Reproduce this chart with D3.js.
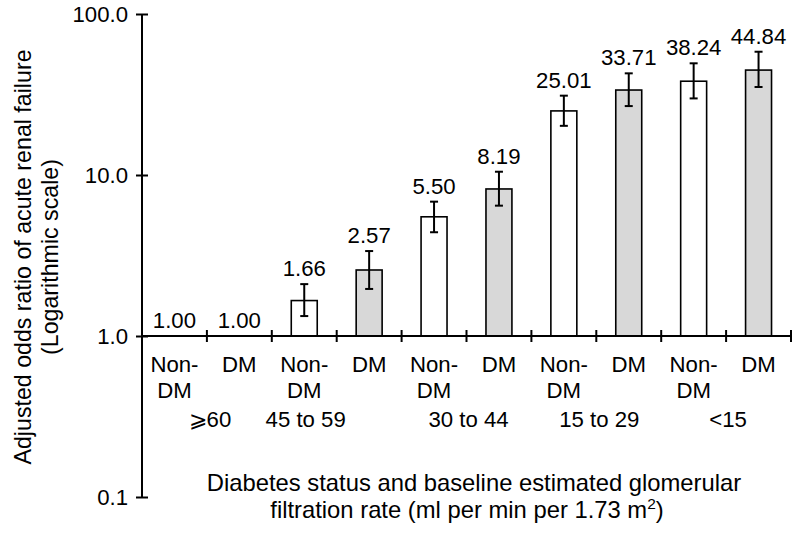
<!DOCTYPE html>
<html><head><meta charset="utf-8">
<script src="https://cdn.jsdelivr.net/npm/d3@7"></script>
<style>
html,body{margin:0;padding:0;background:#fff;}
svg{display:block;font-family:"Liberation Sans",Arial,Helvetica,sans-serif;}
</style></head>
<body><svg id="chart" width="800" height="535"></svg>
<script>
// ---- data ----
const groups = ["\u2A7E60", "45 to 59", "30 to 44", "15 to 29", "<15"];
const statuses = ["Non-DM", "DM"];
const values = [1.00, 1.00, 1.66, 2.57, 5.50, 8.19, 25.01, 33.71, 38.24, 44.84];
const valueLabels = ["1.00", "1.00", "1.66", "2.57", "5.50", "8.19", "25.01", "33.71", "38.24", "44.84"];
const lowerCI = [null, null, 1.33, 1.96, 4.41, 6.45, 20.2, 26.8, 29.9, 35.2];
const upperCI = [null, null, 2.10, 3.37, 6.83, 10.48, 31.1, 42.8, 49.4, 58.3];
const yTickValues = [0.1, 1, 10, 100];
const yTickLabels = ["0.1", "1.0", "10.0", "100.0"];

// ---- layout ----
const svg = d3.select("#chart");
const mLeft = 142, mRight = 791, mTop = 14, mBottom = 497;
const fs = 22.2, fsTitle = 23.8, fsYTitle = 23.2;
const groupNudge = [3, -31, 2, 3, 2];

const bars = values.map((v, i) => ({
  key: i, group: groups[Math.floor(i / 2)], status: statuses[i % 2],
  value: v, label: valueLabels[i], lo: lowerCI[i], hi: upperCI[i]
}));

const x = d3.scaleBand().domain(bars.map(d => d.key)).range([mLeft, mRight]).padding(0);
const y = d3.scaleLog().domain([0.1, 100]).range([mBottom, mTop]);
const base = y(1);
const bw = x.bandwidth() * 0.4;

// bars
svg.append("g").selectAll("rect").data(bars.filter(d => d.value > 1)).join("rect")
  .attr("x", d => x(d.key) + x.bandwidth() / 2 - bw / 2)
  .attr("y", d => y(d.value))
  .attr("width", bw)
  .attr("height", d => base - y(d.value))
  .attr("fill", d => d.status === "DM" ? "#d8d8d8" : "#ffffff")
  .attr("stroke", "#000").attr("stroke-width", 1.6);

// error bars
const eb = svg.append("g").attr("stroke", "#000").attr("stroke-width", 2);
bars.filter(d => d.hi != null).forEach(d => {
  const cx = x(d.key) + x.bandwidth() / 2;
  eb.append("line").attr("x1", cx).attr("x2", cx).attr("y1", y(d.lo)).attr("y2", y(d.hi));
  eb.append("line").attr("x1", cx - 4).attr("x2", cx + 4).attr("y1", y(d.lo)).attr("y2", y(d.lo));
  eb.append("line").attr("x1", cx - 4).attr("x2", cx + 4).attr("y1", y(d.hi)).attr("y2", y(d.hi));
});

// value labels
svg.append("g").selectAll("text").data(bars).join("text")
  .attr("x", d => x(d.key) + x.bandwidth() / 2)
  .attr("y", d => y(d.hi != null ? d.hi : d.value) - 8)
  .attr("text-anchor", "middle").attr("font-size", fs).attr("fill", "#000")
  .text(d => d.label);

// y axis
const yAxis = d3.axisLeft(y).tickValues(yTickValues)
  .tickFormat((d, i) => yTickLabels[i]).tickSizeInner(6).tickSizeOuter(0).tickPadding(9);
const gy = svg.append("g").attr("transform", `translate(${mLeft},0)`).call(yAxis);
gy.select(".domain").attr("stroke", "#000").attr("stroke-width", 2).attr("d", `M0,${mTop}V${mBottom}`);
gy.selectAll(".tick line").attr("x1", -6).attr("x2", 6).attr("stroke", "#000").attr("stroke-width", 2);
gy.selectAll(".tick text").attr("font-size", fs).attr("font-family", "Liberation Sans, Arial, sans-serif").attr("fill", "#000").attr("x", -14);

// x axis at y=1
const xTickPos = d3.range(bars.length + 1).map(i => mLeft + i * x.bandwidth());
const gx = svg.append("g");
gx.append("line").attr("x1", mLeft).attr("x2", mRight).attr("y1", base).attr("y2", base)
  .attr("stroke", "#000").attr("stroke-width", 2);
gx.selectAll("line.tk").data(xTickPos.slice(1)).join("line").attr("class", "tk")
  .attr("x1", d => d).attr("x2", d => d).attr("y1", base - 6).attr("y2", base + 6)
  .attr("stroke", "#000").attr("stroke-width", 2);

// category labels
const cl = svg.append("g").attr("font-size", fs).attr("text-anchor", "middle").attr("fill", "#000");
bars.forEach(d => {
  const cx = x(d.key) + x.bandwidth() / 2;
  if (d.status === "Non-DM") {
    cl.append("text").attr("x", cx).attr("y", 372).text("Non-");
    cl.append("text").attr("x", cx).attr("y", 398).text("DM");
  } else {
    cl.append("text").attr("x", cx).attr("y", 372).text("DM");
  }
});
groups.forEach((g, i) => {
  const cx = x(i * 2) + x.bandwidth() + groupNudge[i];
  cl.append("text").attr("x", cx).attr("y", 427).text(g);
});

// axis titles
const yt = svg.append("text").attr("transform", "translate(31,257) rotate(-90)")
  .attr("text-anchor", "middle").attr("font-size", fsYTitle).attr("fill", "#000");
yt.append("tspan").attr("x", 0).attr("y", 0).text("Adjusted odds ratio of acute renal failure");
yt.append("tspan").attr("x", 0).attr("y", 27).text("(Logarithmic scale)");

svg.append("text").attr("text-anchor", "middle").attr("font-size", fsTitle).attr("fill", "#000")
  .attr("x", 474).attr("y", 491).text("Diabetes status and baseline estimated glomerular");
const l2 = svg.append("text").attr("text-anchor", "middle").attr("font-size", fsTitle).attr("fill", "#000")
  .attr("x", 467).attr("y", 518);
l2.append("tspan").text("filtration rate (ml per min per 1.73 m");
l2.append("tspan").attr("font-size", fsTitle * 0.65).attr("dy", -9).text("2");
l2.append("tspan").attr("dy", 9).text(")");
</script></body></html>
